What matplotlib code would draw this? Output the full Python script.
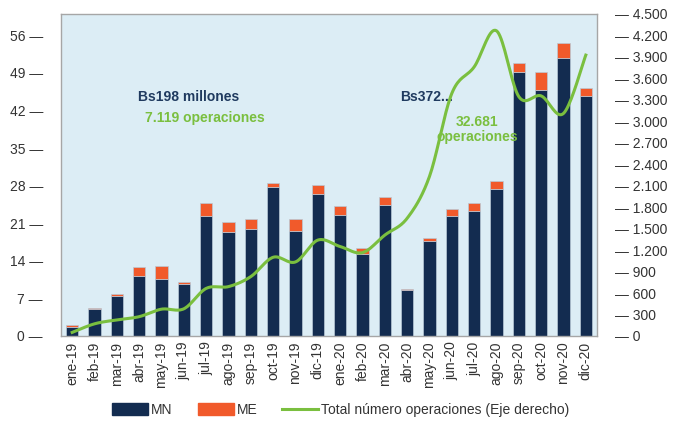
import numpy as np
import matplotlib.pyplot as plt
from matplotlib.patches import Patch
from matplotlib.lines import Line2D

plt.rcParams.update({
    "font.family": ["Liberation Sans", "DejaVu Sans"],
    "font.size": 10,
})

# ── Data ──────────────────────────────────────────────────────────────────────
months = ["ene-19", "feb-19", "mar-19", "abr-19", "may-19", "jun-19",
          "jul-19", "ago-19", "sep-19", "oct-19", "nov-19", "dic-19",
          "ene-20", "feb-20", "mar-20", "abr-20", "may-20", "jun-20",
          "jul-20", "ago-20", "sep-20", "oct-20", "nov-20", "dic-20"]
mn = [1.7, 4.95, 7.4, 11.2, 10.7, 9.6, 22.4, 19.3, 20.0, 27.7, 19.5, 26.5,
      22.6, 15.3, 24.4, 8.5, 17.7, 22.4, 23.3, 27.4, 49.2, 45.8, 51.8, 44.8]
me = [0.3, 0.25, 0.45, 1.6, 2.3, 0.5, 2.3, 2.0, 1.8, 0.8, 2.3, 1.6,
      1.6, 1.1, 1.5, 0.25, 0.5, 1.2, 1.4, 1.5, 1.6, 3.4, 2.8, 1.4]
operaciones = [50, 170, 225, 270, 375, 380, 665, 690, 830, 1100, 1035, 1340,
               1250, 1165, 1410, 1645, 2230, 3390, 3760, 4265, 3345, 3355, 3110, 3925]

left_ticks = [0, 7, 14, 21, 28, 35, 42, 49, 56]
right_ticks = [0, 300, 600, 900, 1200, 1500, 1800, 2100, 2400, 2700,
               3000, 3300, 3600, 3900, 4200, 4500]

NAVY = "#132c50"
ORANGE = "#f15a2b"
GREEN = "#7abf3f"
BG = "#dcedf5"


def smooth(x, y, steps=20):
    """Catmull-Rom curve through the points (like Excel's smoothed line)."""
    x = np.asarray(x, float)
    y = np.asarray(y, float)
    px = np.concatenate([[x[0]], x, [x[-1]]])
    py = np.concatenate([[y[0]], y, [y[-1]]])
    xs, ys = [], []
    t = np.linspace(0, 1, steps)
    for i in range(1, len(px) - 2):
        for p, out in ((px, xs), (py, ys)):
            p0, p1, p2, p3 = p[i - 1], p[i], p[i + 1], p[i + 2]
            out.extend(0.5 * (2 * p1 + (-p0 + p2) * t
                              + (2 * p0 - 5 * p1 + 4 * p2 - p3) * t ** 2
                              + (-p0 + 3 * p1 - 3 * p2 + p3) * t ** 3))
    return np.array(xs), np.array(ys)


fig = plt.figure(figsize=(6.75, 4.23), dpi=100)
ax = fig.add_axes([0.0904, 0.2057, 0.794, 0.7613])
ax.set_facecolor(BG)

x = np.arange(len(months))
ax.bar(x, mn, width=0.56, color=NAVY, edgecolor="#b9c9d6", linewidth=0.5, zorder=2)
ax.bar(x, me, width=0.56, bottom=mn, color=ORANGE, edgecolor="#b9c9d6",
       linewidth=0.5, zorder=2)

ax.set_xlim(-0.5, len(months) - 0.5)
ax.set_ylim(0, 60)
ax.set_xticks(x)
ax.set_xticklabels(months, rotation=90, color="#333333")
ax.tick_params(axis="x", length=0, pad=4)
ax.set_yticks(left_ticks)
ax.set_yticklabels([f"{v} \u2014" for v in left_ticks], color="#333333")
ax.tick_params(axis="y", length=0, pad=13)
for s in ax.spines.values():
    s.set_color("#a6a6a6")
    s.set_linewidth(1.0)

ax2 = ax.twinx()
sx, sy = smooth(x, operaciones)
ax2.plot(sx, sy, color=GREEN, linewidth=2.2, zorder=3)
ax2.set_ylim(0, 4500)
ax2.set_yticks(right_ticks)
ax2.set_yticklabels([("\u2014 " + f"{v:,}".replace(",", ".")) for v in right_ticks],
                    color="#333333")
ax2.tick_params(axis="y", length=0, pad=13)
for s in ax2.spines.values():
    s.set_visible(False)

# annotations
ax.text(5.2, 44.6, "Bs198 millones", color="#1f3a5f", fontweight="bold",
        ha="center", va="center")
ax.text(5.95, 40.7, "7.119 operaciones", color=GREEN, fontweight="bold",
        ha="center", va="center")
ax.text(15.85, 44.5, "Bs372...", color="#1f3a5f", fontweight="bold",
        ha="center", va="center")
ax.text(18.13, 38.5, "32.681\noperaciones", color=GREEN, fontweight="bold",
        ha="center", va="center", linespacing=1.1)

handles = [Patch(color=NAVY), Patch(color=ORANGE),
           Line2D([0], [0], color=GREEN, linewidth=2.2)]
fig.legend(handles, ["MN", "ME", "Total número operaciones (Eje derecho)"],
           loc="center", bbox_to_anchor=(0.505, 0.031), ncol=3, frameon=False,
           handlelength=2.6, handleheight=0.9, handletextpad=0.2,
           columnspacing=1.8, labelcolor="#333333")

fig.savefig("out.png", dpi=100)
